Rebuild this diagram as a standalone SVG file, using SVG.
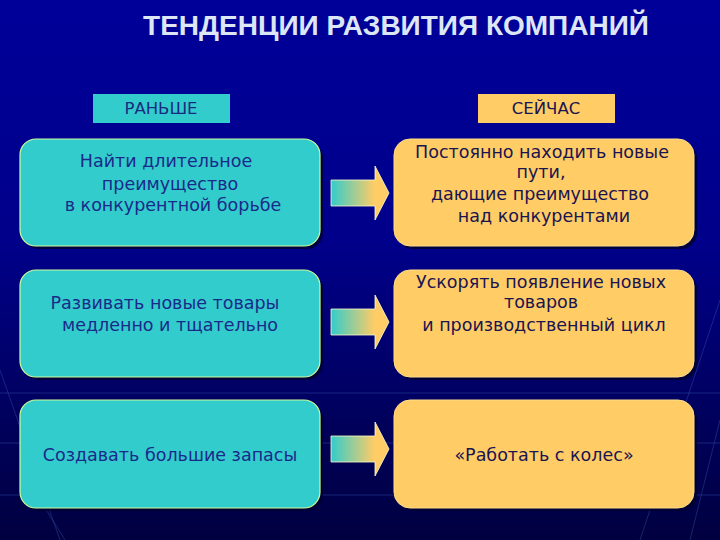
<svg xmlns="http://www.w3.org/2000/svg" width="720" height="540" viewBox="0 0 720 540">
<defs>
<linearGradient id="bg" x1="0" y1="0" x2="0" y2="1">
<stop offset="0" stop-color="#000099"/>
<stop offset="0.45" stop-color="#00008a"/>
<stop offset="0.75" stop-color="#000060"/>
<stop offset="1" stop-color="#000040"/>
</linearGradient>
<linearGradient id="arr" x1="0" y1="0" x2="1" y2="0">
<stop offset="0" stop-color="#33cccc"/>
<stop offset="0.75" stop-color="#ffcc66"/>
<stop offset="1" stop-color="#ffcc66"/>
</linearGradient>
<path id="arrow" d="M0,-13 H44 V-27 L58,0 L44,27 V13 H0 Z"/>
</defs>
<style>
.title{font-family:"Liberation Sans",Arial,sans-serif;font-weight:bold;font-size:28px;fill:#dde6f4}
.hdr{font-family:"DejaVu Sans",sans-serif;font-size:16.5px;fill:#1a2a80}
.lt{font-family:"DejaVu Sans",sans-serif;font-size:17.5px;fill:#1a2a8a}
.rt{font-family:"DejaVu Sans",sans-serif;font-size:17.5px;fill:#1a1450}
.lbox{fill:#33cccc;stroke:#ccff99;stroke-width:1.2}
.rbox{fill:#ffcc66;stroke:#ffdd88;stroke-width:1}
.shadow{fill:#000030;opacity:0.8}
.grid{stroke:#3a5ab0;stroke-width:1;opacity:0.4;fill:none}
.arrow{fill:url(#arr);stroke:#ffffcc;stroke-width:0.8}
</style>
<rect width="720" height="540" fill="url(#bg)"/>
<g id="background-lines">
<line class="grid" x1="0" y1="393" x2="720" y2="393"/>
<line class="grid" x1="0" y1="443" x2="720" y2="443"/>
<line class="grid" x1="0" y1="495" x2="720" y2="495"/>
<line class="grid" x1="0" y1="370" x2="60" y2="540"/>
<line class="grid" x1="40" y1="500" x2="65" y2="540"/>
<line class="grid" x1="720" y1="300" x2="640" y2="540"/>
<line class="grid" x1="720" y1="420" x2="690" y2="540"/>
</g>
<g id="title">
<text class="title" x="396" y="35" text-anchor="middle">ТЕНДЕНЦИИ РАЗВИТИЯ КОМПАНИЙ</text>
</g>
<g id="header-before">
<rect x="93" y="94" width="137" height="29" fill="#33cccc"/>
<text class="hdr" x="161" y="114" text-anchor="middle">РАНЬШЕ</text>
</g>
<g id="header-now">
<rect x="478" y="94" width="137" height="29" fill="#ffcc66"/>
<text class="hdr" x="546" y="114" text-anchor="middle" style="fill:#1a1450">СЕЙЧАС</text>
</g>
<g id="before-1">
<rect class="shadow" x="23" y="142" width="300" height="107" rx="16"/>
<rect class="lbox" x="20" y="139" width="300" height="107" rx="16"/>
<text class="lt" text-anchor="middle"><tspan x="166" y="167">Найти длительное</tspan><tspan x="170" y="190">преимущество</tspan><tspan x="173" y="211">в конкурентной борьбе</tspan></text>
</g>
<g id="before-2">
<rect class="shadow" x="23" y="273" width="300" height="107" rx="16"/>
<rect class="lbox" x="20" y="270" width="300" height="107" rx="16"/>
<text class="lt" text-anchor="middle"><tspan x="165" y="309">Развивать новые товары</tspan><tspan x="170" y="331">медленно и тщательно</tspan></text>
</g>
<g id="before-3">
<rect class="shadow" x="23" y="403" width="300" height="108" rx="16"/>
<rect class="lbox" x="20" y="400" width="300" height="108" rx="16"/>
<text class="lt" x="170" y="461" text-anchor="middle">Создавать большие запасы</text>
</g>
<g id="now-1">
<rect class="shadow" x="397" y="142" width="300" height="107" rx="16"/>
<rect class="rbox" x="394" y="139" width="300" height="107" rx="16"/>
<text class="rt" text-anchor="middle"><tspan x="542" y="158">Постоянно находить новые</tspan><tspan x="541" y="178">пути,</tspan><tspan x="540" y="200">дающие преимущество</tspan><tspan x="544" y="222">над конкурентами</tspan></text>
</g>
<g id="now-2">
<rect class="shadow" x="397" y="273" width="300" height="107" rx="16"/>
<rect class="rbox" x="394" y="270" width="300" height="107" rx="16"/>
<text class="rt" text-anchor="middle"><tspan x="541" y="288">Ускорять появление новых</tspan><tspan x="541" y="308">товаров</tspan><tspan x="544" y="331">и производственный цикл</tspan></text>
</g>
<g id="now-3">
<rect class="shadow" x="397" y="403" width="300" height="108" rx="16"/>
<rect class="rbox" x="394" y="400" width="300" height="108" rx="16"/>
<text class="rt" x="544" y="461" text-anchor="middle">«Работать с колес»</text>
</g>
<g id="connectors">
<use href="#arrow" class="arrow" transform="translate(331,193)"/>
<use href="#arrow" class="arrow" transform="translate(331,322)"/>
<use href="#arrow" class="arrow" transform="translate(331,449)"/>
</g>
</svg>
